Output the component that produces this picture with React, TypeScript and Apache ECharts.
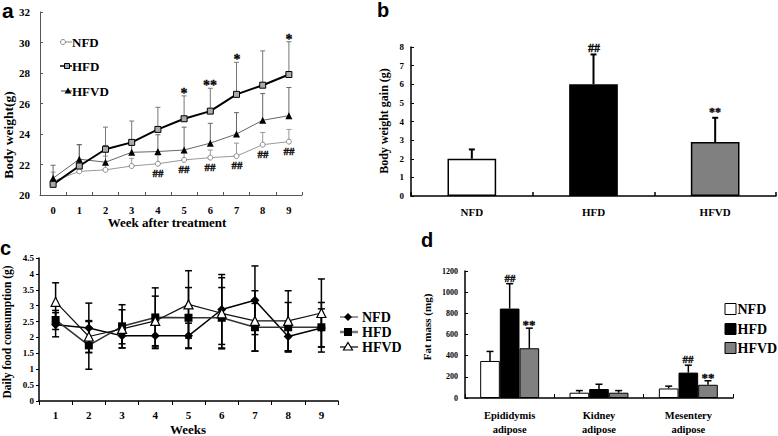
import React, { useEffect, useRef } from "react";
import * as echarts from "echarts";

// ---------- Panel a: body weight ----------
const weeksA = ["0", "1", "2", "3", "4", "5", "6", "7", "8", "9"];
const nfdWeight = [20.9, 21.55, 21.65, 21.9, 22.05, 22.3, 22.45, 22.55, 23.3, 23.5];
const nfdWeightSd = [0.6, 0.6, 0.9, 0.5, 0.55, 0.5, 0.5, 0.85, 0.8, 0.8];
const hfdWeight = [20.7, 21.9, 23.0, 23.45, 24.3, 25.0, 25.5, 26.6, 27.2, 27.9];
const hfdWeightSd = [0.3, 1.4, 1.45, 1.4, 1.45, 1.5, 1.5, 2.1, 2.25, 2.15];
const hfvdWeight = [21.1, 22.35, 22.15, 22.8, 22.85, 22.95, 23.4, 24.0, 24.9, 25.2];
const hfvdWeightSd = [0.85, 0.95, 1.1, 0.6, 1.1, 1.5, 1.3, 1.4, 1.75, 1.85];
const hfdWeightSig = ["", "", "", "", "", "*", "**", "*", "", "*"];
const nfdWeightSig = ["", "", "", "", "##", "##", "##", "##", "##", "##"];

// ---------- Panel b: body weight gain ----------
const groupsB = ["NFD", "HFD", "HFVD"];
const gainB = [2.0, 6.0, 2.9];
const gainSdB = [0.5, 1.6, 1.3];
const gainSigB = ["", "##", "**"];

// ---------- Panel c: daily food consumption ----------
const weeksC = ["1", "2", "3", "4", "5", "6", "7", "8", "9"];
const nfdFood = [2.4, 2.3, 2.05, 2.05, 2.05, 2.88, 3.17, 2.03, 2.3];
const nfdFoodSd = [0.38, 0.78, 0.25, 0.4, 0.4, 1.1, 1.08, 0.45, 0.6];
const hfdFood = [2.55, 1.75, 2.35, 2.63, 2.62, 2.62, 2.32, 2.32, 2.32];
const hfdFoodSd = [0.3, 0.75, 0.68, 0.93, 0.95, 0.95, 0.75, 0.78, 0.78];
const hfvdFood = [3.12, 2.03, 2.27, 2.52, 3.04, 2.76, 2.52, 2.52, 2.77];
const hfvdFoodSd = [0.6, 0.5, 0.6, 0.78, 1.06, 1.12, 0.95, 0.95, 1.07];

// ---------- Panel d: fat mass ----------
const tissuesD = ["Epididymis\nadipose", "Kidney\nadipose", "Mesentery\nadipose"];
const nfdFat = [350, 50, 90];
const nfdFatSd = [90, 20, 22];
const hfdFat = [845, 85, 240];
const hfdFatSd = [235, 45, 70];
const hfvdFat = [470, 50, 125];
const hfvdFatSd = [190, 20, 38];
const hfdFatSig = ["##", "", "##"];
const hfvdFatSig = ["**", "", "**"];

const SERIF = "'Liberation Serif', 'Times New Roman', serif";
const SANS = "'Liberation Sans', Arial, sans-serif";

function errSeries(
  xi: number,
  vals: number[],
  sds: number[],
  o: { offset?: number; cap: number; color: string; width: number; both?: boolean; z?: number }
) {
  return {
    type: "custom",
    xAxisIndex: xi,
    yAxisIndex: xi,
    silent: true,
    z: o.z ?? 1,
    itemStyle: { color: o.color },
    encode: { x: 0, y: [1, 2] },
    data: vals.map((v, i) => [i, o.both ? v - sds[i] : v, v + sds[i]]),
    renderItem: (params: any, api: any) => {
      const band = api.size([1, 0])[0];
      const lo = api.coord([api.value(0), api.value(1)]);
      const hi = api.coord([api.value(0), api.value(2)]);
      const x = lo[0] + band * (o.offset ?? 0);
      const style = { stroke: o.color, lineWidth: o.width };
      const children: any[] = [
        { type: "line", shape: { x1: x, y1: lo[1], x2: x, y2: hi[1] }, style },
        { type: "line", shape: { x1: x - o.cap, y1: hi[1], x2: x + o.cap, y2: hi[1] }, style },
      ];
      if (o.both) {
        children.push({ type: "line", shape: { x1: x - o.cap, y1: lo[1], x2: x + o.cap, y2: lo[1] }, style });
      }
      return { type: "group", children };
    },
  };
}

function sigSeries(
  xi: number,
  texts: string[],
  yVals: number[],
  o: { offset?: number; dy: number; size: number }
) {
  const items = texts.map((t, i) => [i, yVals[i], t]).filter((d) => d[2] !== "");
  return {
    type: "custom",
    xAxisIndex: xi,
    yAxisIndex: xi,
    silent: true,
    z: 10,
    itemStyle: { color: "#000" },
    encode: { x: 0, y: 1 },
    data: items.map((d) => [d[0], d[1]]),
    renderItem: (params: any, api: any) => {
      const band = api.size([1, 0])[0];
      const p = api.coord([api.value(0), api.value(1)]);
      return {
        type: "text",
        x: Math.round(p[0] + band * (o.offset ?? 0)),
        y: Math.round(p[1] + o.dy),
        style: {
          text: items[params.dataIndex][2] as string,
          fill: "#000",
          stroke: "#000",
          lineWidth: 0.3,
          fontFamily: SERIF,
          fontWeight: "bold",
          fontSize: o.size,
          align: "center",
          verticalAlign: "middle",
        },
      };
    },
  };
}

const axisLineBlack = (w = 1) => ({ show: true, lineStyle: { color: "#000", width: w } });

function txt(x: number, y: number, text: string, size: number, o: any = {}) {
  return {
    type: "text",
    x,
    y,
    rotation: o.rotation ?? 0,
    style: {
      text,
      fill: "#000",
      fontFamily: o.family ?? SERIF,
      fontWeight: "bold",
      fontSize: size,
      align: o.align ?? "left",
      verticalAlign: "middle",
    },
  };
}

export default function App() {
  const ref = useRef<HTMLDivElement>(null);
  useEffect(() => {
    if (!ref.current) return;
    const chart = echarts.init(ref.current, null, { renderer: "svg" });

    const yLabel = (size: number, margin: number) => ({
      color: "#000",
      fontFamily: SERIF,
      fontWeight: "bold",
      fontSize: size,
      margin,
      formatter: (v: any) => String(v),
    });

    const graphics: any[] = [
      // panel letters
      txt(2, 10, "a", 21, { family: SANS }),
      txt(377, 10, "b", 20, { family: SANS }),
      txt(0, 248, "c", 20, { family: SANS }),
      txt(421, 240, "d", 20, { family: SANS }),
      // axis titles
      txt(8, 135, "Body weight(g)", 13.5, { rotation: Math.PI / 2, align: "center" }),
      txt(167, 222, "Week after treatment", 13, { align: "center" }),
      txt(384, 121, "Body weight gain (g)", 12, { rotation: Math.PI / 2, align: "center" }),
      txt(7, 332, "Daily food consumption (g)", 11.5, { rotation: Math.PI / 2, align: "center" }),
      txt(188, 429, "Weeks", 13, { align: "center" }),
      txt(427, 327, "Fat mass (mg)", 11, { rotation: Math.PI / 2, align: "center" }),
      // legend a
      { type: "line", shape: { x1: 60, y1: 42, x2: 72, y2: 42 }, style: { stroke: "#888", lineWidth: 1 } },
      { type: "circle", shape: { cx: 63, cy: 42, r: 2.5 }, style: { fill: "#fff", stroke: "#888", lineWidth: 1 } },
      txt(72, 42, "NFD", 13),
      { type: "line", shape: { x1: 60, y1: 66, x2: 72, y2: 66 }, style: { stroke: "#000", lineWidth: 1.5 } },
      { type: "rect", shape: { x: 64.5, y: 63.5, width: 5, height: 5 }, style: { fill: "#aaa", stroke: "#000", lineWidth: 1 } },
      txt(72, 66, "HFD", 13),
      { type: "line", shape: { x1: 61, y1: 91, x2: 72, y2: 91 }, style: { stroke: "#444", lineWidth: 1 } },
      { type: "polygon", shape: { points: [[68, 87.5], [71.5, 93.5], [64.5, 93.5]] }, style: { fill: "#000" } },
      txt(72, 91, "HFVD", 13),
      // legend c
      { type: "line", shape: { x1: 340, y1: 317, x2: 358, y2: 317 }, style: { stroke: "#777", lineWidth: 1.5 } },
      { type: "polygon", shape: { points: [[348, 313], [352, 317], [348, 321], [344, 317]] }, style: { fill: "#000" } },
      txt(362, 317, "NFD", 14),
      { type: "line", shape: { x1: 340, y1: 332, x2: 358, y2: 332 }, style: { stroke: "#777", lineWidth: 2.5 } },
      { type: "rect", shape: { x: 344, y: 328, width: 8, height: 8 }, style: { fill: "#000" } },
      txt(362, 332, "HFD", 14),
      { type: "line", shape: { x1: 340, y1: 347, x2: 358, y2: 347 }, style: { stroke: "#000", lineWidth: 1.2 } },
      { type: "polygon", shape: { points: [[348, 342.5], [352.5, 350], [343.5, 350]] }, style: { fill: "#fff", stroke: "#000", lineWidth: 1.2 } },
      txt(362, 347, "HFVD", 14),
      // legend d
      { type: "rect", shape: { x: 725, y: 303.5, width: 11, height: 11 }, style: { fill: "#fff", stroke: "#000", lineWidth: 1 } },
      txt(737.5, 309, "NFD", 14),
      { type: "rect", shape: { x: 725, y: 323.5, width: 11, height: 11 }, style: { fill: "#000", stroke: "#000", lineWidth: 1 } },
      txt(737.5, 329, "HFD", 14),
      { type: "rect", shape: { x: 725, y: 342.5, width: 11, height: 11 }, style: { fill: "#808080", stroke: "#000", lineWidth: 1 } },
      txt(737.5, 348, "HFVD", 14),
    ];

    const option: any = {
      animation: false,
      backgroundColor: "#fff",
      grid: [
        { left: 40, top: 12, width: 262, height: 183 },
        { left: 411, top: 47, width: 365, height: 149 },
        { left: 39, top: 258, width: 299, height: 143 },
        { left: 465, top: 271, width: 268, height: 130 },
      ],
      xAxis: [
        {
          gridIndex: 0,
          type: "category",
          data: weeksA,
          axisLine: { show: true, lineStyle: { color: "#555", width: 1 } },
          axisTick: { show: true, inside: true, length: 3, lineStyle: { color: "#555" } },
          axisLabel: { ...yLabel(10.5, 10) },
        },
        {
          gridIndex: 1,
          type: "category",
          data: groupsB,
          axisLine: axisLineBlack(1.5),
          axisTick: { show: true, inside: true, length: 4, lineStyle: { color: "#000", width: 1.5 } },
          axisLabel: { ...yLabel(11, 10) },
        },
        {
          gridIndex: 2,
          type: "category",
          data: weeksC,
          axisLine: axisLineBlack(1.5),
          axisTick: { show: true, length: 4, lineStyle: { color: "#000" } },
          axisLabel: { ...yLabel(11, 8) },
        },
        {
          gridIndex: 3,
          type: "category",
          data: tissuesD,
          axisLine: axisLineBlack(1.5),
          axisTick: { show: true, inside: true, length: 4, lineStyle: { color: "#000" } },
          axisLabel: { ...yLabel(10.5, 10), lineHeight: 14 },
        },
      ],
      yAxis: [
        {
          gridIndex: 0,
          type: "value",
          min: 20,
          max: 32,
          interval: 2,
          axisLine: { show: true, lineStyle: { color: "#555" } },
          axisTick: { show: true, inside: true, length: 3, lineStyle: { color: "#555" } },
          splitLine: { show: false },
          axisLabel: yLabel(11, 10),
        },
        {
          gridIndex: 1,
          type: "value",
          min: 0,
          max: 8,
          interval: 1,
          axisLine: axisLineBlack(1.5),
          axisTick: { show: true, inside: true, length: 3, lineStyle: { color: "#000" } },
          splitLine: { show: false },
          axisLabel: yLabel(9, 7),
        },
        {
          gridIndex: 2,
          type: "value",
          min: 0,
          max: 4.5,
          interval: 0.5,
          axisLine: axisLineBlack(1.5),
          axisTick: { show: true, length: 3, lineStyle: { color: "#000" } },
          splitLine: { show: false },
          axisLabel: yLabel(9, 5),
        },
        {
          gridIndex: 3,
          type: "value",
          min: 0,
          max: 1200,
          interval: 200,
          axisLine: axisLineBlack(1.5),
          axisTick: { show: true, inside: true, length: 3, lineStyle: { color: "#000" } },
          splitLine: { show: false },
          axisLabel: yLabel(8, 7),
        },
      ],
      series: [
        // ---- panel a ----
        errSeries(0, nfdWeight, nfdWeightSd, { cap: 2.5, color: "#999", width: 1 }),
        errSeries(0, hfdWeight, hfdWeightSd, { cap: 2.5, color: "#777", width: 1 }),
        errSeries(0, hfvdWeight, hfvdWeightSd, { cap: 2.5, color: "#666", width: 1 }),
        {
          type: "line",
          name: "NFD",
          xAxisIndex: 0,
          yAxisIndex: 0,
          data: nfdWeight,
          symbol: "circle",
          symbolSize: 5,
          z: 4,
          itemStyle: { color: "#fff", borderColor: "#888", borderWidth: 1 },
          lineStyle: { color: "#999", width: 1 },
        },
        {
          type: "line",
          name: "HFD",
          xAxisIndex: 0,
          yAxisIndex: 0,
          data: hfdWeight,
          symbol: "rect",
          symbolSize: 6,
          z: 5,
          itemStyle: { color: "#aaa", borderColor: "#000", borderWidth: 1 },
          lineStyle: { color: "#000", width: 2 },
        },
        {
          type: "line",
          name: "HFVD",
          xAxisIndex: 0,
          yAxisIndex: 0,
          data: hfvdWeight,
          symbol: "triangle",
          symbolSize: 7,
          z: 4,
          itemStyle: { color: "#000" },
          lineStyle: { color: "#666", width: 1 },
        },
        sigSeries(0, hfdWeightSig, hfdWeight.map((v, i) => v + hfdWeightSd[i]), { dy: -3, size: 14 }),
        sigSeries(0, nfdWeightSig, nfdWeight, { dy: 9, size: 11 }),

        // ---- panel b ----
        {
          type: "bar",
          name: "Body weight gain",
          xAxisIndex: 1,
          yAxisIndex: 1,
          barWidth: "40%",
          z: 2,
          data: gainB.map((v, i) => ({
            value: v,
            itemStyle: [
              { color: "#fff", borderColor: "#000", borderWidth: 1.5 },
              { color: "#000", borderColor: "#000", borderWidth: 1.5 },
              { color: "#808080", borderColor: "#000", borderWidth: 1.5 },
            ][i],
          })),
        },
        errSeries(1, gainB, gainSdB, { cap: 3, color: "#000", width: 2, z: 1 }),
        sigSeries(1, gainSigB, gainB.map((v, i) => v + gainSdB[i]), { dy: -6, size: 12 }),

        // ---- panel c ----
        errSeries(2, nfdFood, nfdFoodSd, { cap: 3.5, color: "#000", width: 1.5, both: true }),
        errSeries(2, hfdFood, hfdFoodSd, { cap: 3.5, color: "#000", width: 1.5, both: true }),
        errSeries(2, hfvdFood, hfvdFoodSd, { cap: 3.5, color: "#000", width: 1.5, both: true }),
        {
          type: "line",
          name: "NFD",
          xAxisIndex: 2,
          yAxisIndex: 2,
          data: nfdFood,
          symbol: "diamond",
          symbolSize: 9,
          z: 4,
          itemStyle: { color: "#000" },
          lineStyle: { color: "#000", width: 1.5 },
        },
        {
          type: "line",
          name: "HFD",
          xAxisIndex: 2,
          yAxisIndex: 2,
          data: hfdFood,
          symbol: "rect",
          symbolSize: 8,
          z: 4,
          itemStyle: { color: "#000" },
          lineStyle: { color: "#333", width: 1.6 },
        },
        {
          type: "line",
          name: "HFVD",
          xAxisIndex: 2,
          yAxisIndex: 2,
          data: hfvdFood,
          symbol: "triangle",
          symbolSize: 9,
          z: 5,
          itemStyle: { color: "#fff", borderColor: "#000", borderWidth: 1.2 },
          lineStyle: { color: "#111", width: 1.2 },
        },

        // ---- panel d ----
        {
          type: "bar",
          name: "NFD",
          xAxisIndex: 3,
          yAxisIndex: 3,
          barWidth: "22%",
          barGap: "0%",
          z: 2,
          data: nfdFat,
          itemStyle: { color: "#fff", borderColor: "#000", borderWidth: 1 },
        },
        {
          type: "bar",
          name: "HFD",
          xAxisIndex: 3,
          yAxisIndex: 3,
          barWidth: "22%",
          barGap: "0%",
          z: 2,
          data: hfdFat,
          itemStyle: { color: "#000", borderColor: "#000", borderWidth: 1 },
        },
        {
          type: "bar",
          name: "HFVD",
          xAxisIndex: 3,
          yAxisIndex: 3,
          barWidth: "22%",
          barGap: "0%",
          z: 2,
          data: hfvdFat,
          itemStyle: { color: "#808080", borderColor: "#000", borderWidth: 1 },
        },
        errSeries(3, nfdFat, nfdFatSd, { offset: -0.22, cap: 3.5, color: "#000", width: 1.5, z: 1 }),
        errSeries(3, hfdFat, hfdFatSd, { offset: 0, cap: 3.5, color: "#000", width: 1.5, z: 1 }),
        errSeries(3, hfvdFat, hfvdFatSd, { offset: 0.22, cap: 3.5, color: "#000", width: 1.5, z: 1 }),
        sigSeries(3, hfdFatSig, hfdFat.map((v, i) => v + hfdFatSd[i]), { offset: 0, dy: -6, size: 11 }),
        sigSeries(3, hfvdFatSig, hfvdFat.map((v, i) => v + hfvdFatSd[i]), { offset: 0.22, dy: -4, size: 13 }),
      ],
      graphic: graphics,
    };

    chart.setOption(option);
    return () => chart.dispose();
  }, []);

  return (
    <div
      ref={ref}
      style={{ position: "fixed", left: 0, top: 0, width: 778, height: 436, background: "#fff" }}
    />
  );
}
